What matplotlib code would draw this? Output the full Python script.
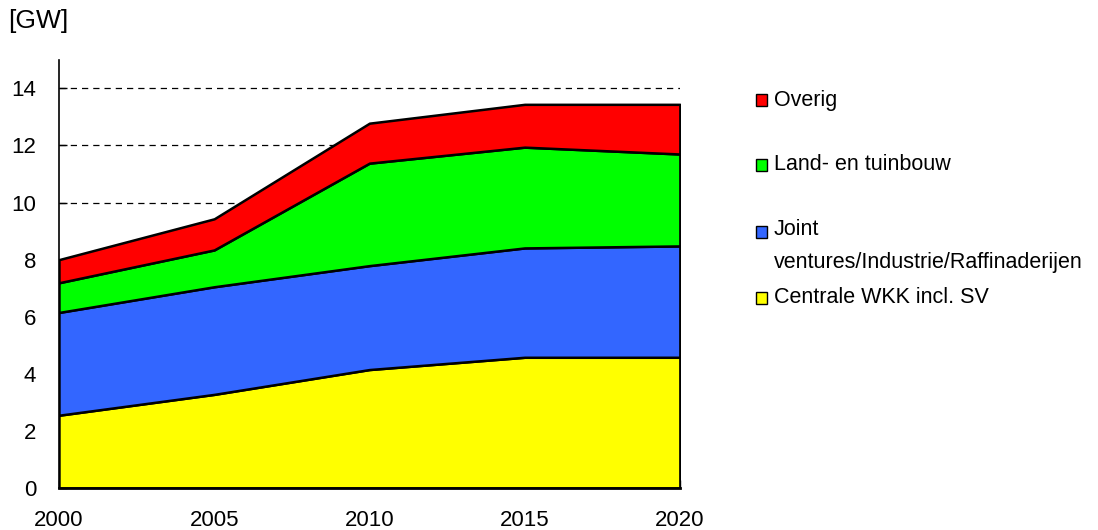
import matplotlib.pyplot as plt
from matplotlib.patches import Rectangle

plt.rcParams["font.family"] = ["Liberation Sans", "DejaVu Sans"]

years = [2000, 2005, 2010, 2015, 2020]
centrale = [2.55, 3.28, 4.15, 4.58, 4.58]
joint = [3.60, 3.77, 3.64, 3.83, 3.90]
land = [1.04, 1.29, 3.59, 3.53, 3.22]
overig = [0.81, 1.09, 1.40, 1.50, 1.74]

labels = ["Centrale WKK incl. SV", "Joint\nventures/Industrie/Raffinaderijen",
          "Land- en tuinbouw", "Overig"]
colors = ["#FFFF00", "#3366FF", "#00FF00", "#FF0000"]
yticks = [0, 2, 4, 6, 8, 10, 12, 14]

fig = plt.figure(figsize=(10.98, 5.30), dpi=100)
ax = fig.add_axes([0.0537, 0.0792, 0.5655, 0.808])

ax.stackplot(years, centrale, joint, land, overig, colors=colors,
             edgecolor="black", linewidth=1.8, zorder=2)

ax.set_xlim(2000, 2020)
ax.set_ylim(0, 15)
ax.set_xticks(years)
ax.set_yticks(yticks)
for y in yticks[1:]:
    ax.axhline(y, color="black", linestyle=(0, (5, 4)), linewidth=0.9, zorder=1)

ax.spines["top"].set_visible(False)
ax.spines["right"].set_visible(False)
ax.spines["left"].set_linewidth(1.2)
ax.spines["bottom"].set_linewidth(2)
ax.spines["bottom"].set_zorder(3)
ax.tick_params(axis="both", direction="in", length=6, width=1, labelsize=16)
ax.tick_params(axis="x", pad=16)
ax.tick_params(axis="y", pad=16.5)

fig.text(0.007, 0.96, "[GW]", fontsize=19, va="center", ha="left")

# legend, placed by hand to keep the uneven spacing
leg_y = [0.811, 0.689, 0.562, 0.438]
for lab, col, y in zip(labels[::-1], colors[::-1], leg_y):
    fig.add_artist(Rectangle((0.6885, y - 0.011), 0.0098, 0.022, transform=fig.transFigure,
                             facecolor=col, edgecolor="black", linewidth=1))
    if "\n" in lab:
        fig.text(0.7045, y + 0.024, lab, fontsize=15.5, va="top", ha="left", linespacing=1.75)
    else:
        fig.text(0.7045, y, lab, fontsize=15.5, va="center", ha="left")

fig.savefig("out.png", dpi=100)
